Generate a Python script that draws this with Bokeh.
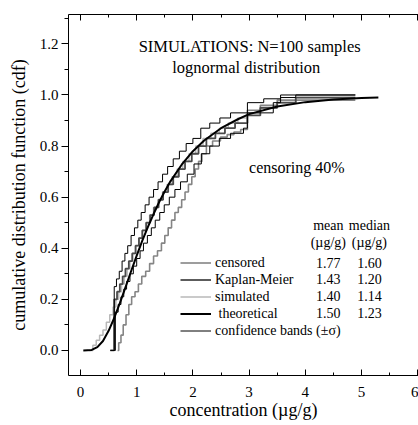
from bokeh.plotting import figure
from bokeh.models import (Range1d, LinearAxis, SingleIntervalTicker, PrintfTickFormatter,
                          Label, Legend, LegendItem)
from bokeh.embed import file_html
from bokeh.resources import INLINE

FONT = "Liberation Serif"

# theoretical lognormal cdf
theo_x = [0.05, 0.2, 0.3, 0.4, 0.5, 0.6, 0.7, 0.8, 0.9, 1.0, 1.1, 1.2, 1.3, 1.4, 1.5, 1.6,
          1.8, 2.0, 2.2, 2.5, 2.8, 3.0, 3.5, 4.0, 4.5, 5.0, 5.3]
theo_y = [0.0, 0.002, 0.013, 0.037, 0.077, 0.127, 0.185, 0.247, 0.31, 0.371, 0.43, 0.484,
          0.534, 0.581, 0.623, 0.662, 0.727, 0.78, 0.822, 0.87, 0.905, 0.925, 0.955, 0.972,
          0.982, 0.988, 0.990]

# simulated sample ecdf
sim_x = [0.15, 0.22, 0.28, 0.34, 0.40, 0.46, 0.52, 0.58, 0.63, 0.68, 0.73, 0.78, 0.83, 0.88,
         0.93, 0.98, 1.04, 1.10, 1.16, 1.23, 1.30, 1.38, 1.46, 1.54, 1.63, 1.72, 1.82, 1.93,
         2.05, 2.18, 2.32, 2.47, 2.63, 2.80, 2.97, 3.20, 3.50, 3.83, 4.89]
sim_y = [0.00, 0.02, 0.04, 0.06, 0.08, 0.11, 0.14, 0.17, 0.20, 0.23, 0.26, 0.29, 0.32, 0.35,
         0.38, 0.41, 0.44, 0.47, 0.50, 0.53, 0.56, 0.59, 0.62, 0.65, 0.68, 0.71, 0.74, 0.77,
         0.80, 0.83, 0.85, 0.87, 0.89, 0.91, 0.93, 0.95, 0.97, 0.99, 0.99]

# Kaplan-Meier estimate
km_x = [0.53, 0.60, 0.65, 0.70, 0.75, 0.80, 0.86, 0.92, 0.98, 1.04, 1.10, 1.17, 1.24, 1.31,
        1.39, 1.47, 1.56, 1.65, 1.75, 1.86, 1.98, 2.10, 2.24, 2.40, 2.57, 2.75, 2.97, 3.20,
        3.50, 3.83, 4.89]
km_y = [0.00, 0.20, 0.23, 0.26, 0.29, 0.32, 0.35, 0.38, 0.41, 0.44, 0.47, 0.50, 0.53, 0.56,
        0.59, 0.62, 0.65, 0.68, 0.71, 0.74, 0.77, 0.80, 0.83, 0.85, 0.87, 0.89, 0.92, 0.95,
        0.97, 0.99, 0.99]

# confidence bands (+/- sigma)
up_x = [0.53, 0.60, 0.64, 0.69, 0.74, 0.79, 0.84, 0.90, 0.96, 1.02, 1.08, 1.15, 1.22, 1.30,
        1.38, 1.46, 1.55, 1.65, 1.76, 1.88, 2.00, 2.14, 2.30, 2.48, 2.67, 2.97, 3.26, 3.56, 4.89]
up_y = [0.00, 0.25, 0.28, 0.31, 0.35, 0.38, 0.41, 0.45, 0.48, 0.51, 0.54, 0.57, 0.60, 0.63,
        0.66, 0.69, 0.72, 0.75, 0.78, 0.81, 0.83, 0.87, 0.89, 0.91, 0.93, 0.97, 0.985, 1.00, 1.00]
lo_x = [0.60, 0.62, 0.67, 0.72, 0.77, 0.82, 0.88, 0.94, 1.00, 1.06, 1.12, 1.19, 1.26, 1.33,
        1.41, 1.49, 1.58, 1.68, 1.78, 1.90, 2.02, 2.15, 2.30, 2.47, 2.67, 2.90, 2.97, 3.43,
        3.56, 3.83, 4.89]
lo_y = [0.00, 0.15, 0.18, 0.21, 0.24, 0.27, 0.30, 0.33, 0.36, 0.39, 0.42, 0.45, 0.48, 0.51,
        0.54, 0.57, 0.60, 0.63, 0.66, 0.69, 0.73, 0.77, 0.80, 0.83, 0.85, 0.87, 0.93, 0.97,
        0.99, 1.00, 1.00]

# censored data ecdf
cen_x = [0.66, 0.68, 0.72, 0.76, 0.81, 0.86, 0.91, 0.97, 1.03, 1.09, 1.16, 1.23, 1.30, 1.37,
         1.44, 1.50, 1.56, 1.62, 1.68, 1.74, 1.80, 1.86, 1.92, 1.98, 2.04, 2.10, 2.16, 2.24,
         2.35, 2.49, 2.61, 2.73, 2.85, 2.97, 3.20, 3.50, 4.89]
cen_y = [0.00, 0.03, 0.06, 0.10, 0.14, 0.18, 0.21, 0.23, 0.26, 0.29, 0.31, 0.34, 0.37, 0.39,
         0.42, 0.45, 0.48, 0.51, 0.54, 0.56, 0.59, 0.62, 0.65, 0.68, 0.71, 0.74, 0.77, 0.80,
         0.82, 0.835, 0.845, 0.855, 0.865, 0.94, 0.96, 0.98, 0.98]

series_names = ["censored", "Kaplan-Meier", "simulated", " theoretical", "confidence bands (\u00b1\u03c3)"]
mean_vals = ["1.77", "1.43", "1.40", "1.50"]
median_vals = ["1.60", "1.20", "1.14", "1.23"]
row_y = [0.344, 0.279, 0.213, 0.147]

p = figure(width=418, height=425, x_range=Range1d(-0.2135, 6.014), y_range=Range1d(-0.098, 1.315),
           output_backend="svg", toolbar_location=None, x_axis_location=None,
           y_axis_location=None, min_border_left=68, min_border_right=0, min_border_top=14,
           min_border_bottom=50)
p.grid.visible = False
p.outline_line_color = None
p.background_fill_color = "white"
p.border_fill_color = "white"


def style_axis(ax):
    ax.axis_line_color = "black"
    ax.major_tick_line_color = "black"
    ax.minor_tick_line_color = "black"
    ax.major_label_text_font = FONT
    ax.major_label_text_font_size = "15px"
    ax.major_label_text_color = "black"
    ax.axis_label_text_font = FONT
    ax.axis_label_text_font_style = "normal"
    ax.axis_label_text_font_size = "18px"
    ax.axis_label_text_color = "black"


xb = LinearAxis(ticker=SingleIntervalTicker(interval=1, num_minor_ticks=2),
                axis_label="concentration (\u00b5g/g)")
style_axis(xb)
xb.major_tick_in = 6
xb.major_tick_out = 0
xb.minor_tick_in = 3
xb.minor_tick_out = 0
xb.major_label_standoff = 11
xb.axis_label_standoff = 0
p.add_layout(xb, "below")

xt = LinearAxis(ticker=SingleIntervalTicker(interval=1, num_minor_ticks=2),
                major_label_overrides={i: "" for i in range(7)})
style_axis(xt)
xt.major_tick_in = 6
xt.major_tick_out = 0
xt.minor_tick_in = 3
xt.minor_tick_out = 0
xt.major_label_text_font_size = "1px"
xt.major_label_standoff = 0
p.add_layout(xt, "above")

yl = LinearAxis(ticker=SingleIntervalTicker(interval=0.2, num_minor_ticks=2),
                formatter=PrintfTickFormatter(format="%.1f"),
                axis_label="cumulative distribution function (cdf)")
style_axis(yl)
yl.major_tick_in = 0
yl.major_tick_out = 7
yl.minor_tick_in = 0
yl.minor_tick_out = 4
yl.major_label_standoff = 3
yl.axis_label_standoff = 8
p.add_layout(yl, "left")

r_theo = p.line(theo_x, theo_y, line_color="black", line_width=2)
r_sim = p.step(sim_x, sim_y, mode="after", line_color="#b8b8b8", line_width=1.5)
r_cen = p.step(cen_x, cen_y, mode="after", line_color="#858585", line_width=1.6)
r_km = p.step(km_x, km_y, mode="after", line_color="#4a4a4a", line_width=1.8)
r_up = p.step(up_x, up_y, mode="after", line_color="black", line_width=1)
r_lo = p.step(lo_x, lo_y, mode="after", line_color="black", line_width=1)
p.renderers.remove(r_theo)
p.renderers.append(r_theo)

legend = Legend(items=[LegendItem(label=series_names[0], renderers=[r_cen]),
                       LegendItem(label=series_names[1], renderers=[r_km]),
                       LegendItem(label=series_names[2], renderers=[r_sim]),
                       LegendItem(label=series_names[3], renderers=[r_theo]),
                       LegendItem(label=series_names[4], renderers=[r_up])],
                location=(112, 36), padding=0, margin=0, spacing=0, glyph_height=17,
                label_height=17, glyph_width=31, label_standoff=4, border_line_color=None,
                background_fill_alpha=0, label_text_font=FONT, label_text_font_size="14px",
                label_text_color="black")
p.add_layout(legend)


def add_text(x, y, t, size, align="center"):
    p.add_layout(Label(x=x, y=y, text=t, text_font=FONT, text_font_size=size,
                       text_align=align, text_baseline="middle", text_color="black"))


add_text(3.01, 1.19, "SIMULATIONS: N=100 samples", "16.5px")
add_text(2.95, 1.108, "lognormal distribution", "16.5px")
add_text(3.85, 0.716, "censoring 40%", "16px")

mean_x = 4.41
median_x = 5.14
add_text(mean_x, 0.49, "mean", "14px")
add_text(median_x, 0.49, "median", "14px")
add_text(mean_x, 0.423, "(\u00b5g/g)", "14px")
add_text(median_x, 0.423, "(\u00b5g/g)", "14px")
for yy, mv, md in zip(row_y, mean_vals, median_vals):
    add_text(mean_x, yy, mv, "14px")
    add_text(median_x, yy, md, "14px")

open("out.html", "w").write(file_html(p, INLINE))
